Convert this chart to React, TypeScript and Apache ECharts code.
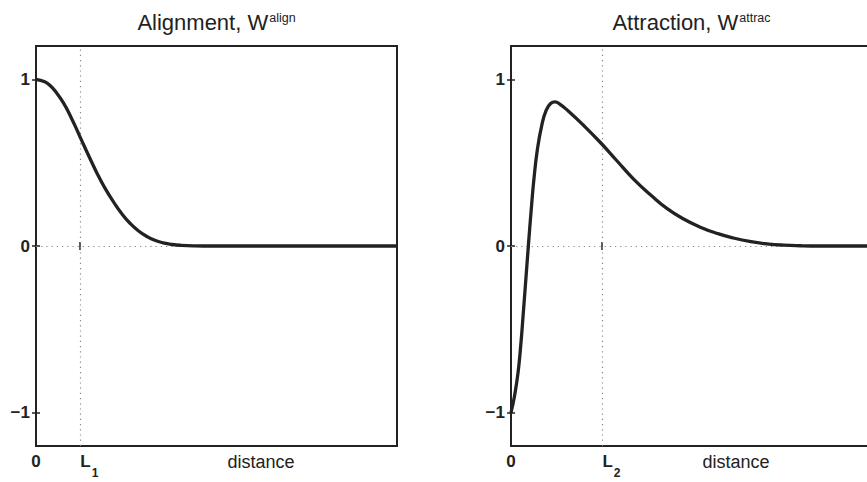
import React, { useEffect, useRef } from 'react';
import * as echarts from 'echarts';

// Alignment kernel W^align (distance in plot units, L1 = 1)
const alignDist = [0, 0.2, 0.32, 0.45, 0.62, 0.8, 1.0, 1.2, 1.38, 1.56, 1.76, 1.95, 2.14, 2.33, 2.52, 2.7, 2.89, 3.1, 3.3, 3.6, 4.0, 5.0, 6.0, 7.0, 8.2];
const alignW = [1.0, 0.985, 0.963, 0.925, 0.86, 0.77, 0.655, 0.54, 0.44, 0.35, 0.265, 0.193, 0.135, 0.09, 0.057, 0.034, 0.019, 0.009, 0.004, 0.001, 0, 0, 0, 0, 0];

// Attraction kernel W^attrac
const attracDist = [0, 0.08, 0.16, 0.22, 0.28, 0.34, 0.4, 0.46, 0.52, 0.6, 0.7, 0.8, 0.9, 1.0, 1.1, 1.3, 1.64, 2.02, 2.4, 2.79, 3.2, 3.54, 3.9, 4.3, 4.7, 5.05, 5.45, 5.81, 6.2, 6.57, 7.0, 8.2];
const attracW = [-1, -0.9, -0.76, -0.6, -0.4, -0.19, 0.02, 0.22, 0.4, 0.58, 0.725, 0.815, 0.855, 0.865, 0.853, 0.81, 0.726, 0.624, 0.513, 0.4, 0.3, 0.226, 0.165, 0.113, 0.074, 0.048, 0.026, 0.013, 0.005, 0.0015, 0, 0];

const L1 = 1;
const L2 = 2.07;
const xMin = 0;
const xMax = 8.2;
const yMin = -1.2;
const yMax = 1.2;
const yTicks = [-1, 0, 1];
const titles = [
  { main: 'Alignment, W', sup: 'align' },
  { main: 'Attraction, W', sup: 'attrac' },
];
const xLabelName = 'distance';

const FONT = '"Liberation Sans", Arial, Helvetica, sans-serif';
const INK = '#222';

export default function App() {
  const ref = useRef<HTMLDivElement>(null);
  useEffect(() => {
    if (!ref.current) return;
    const chart = echarts.init(ref.current, undefined, { renderer: 'svg' });

    const grids = [
      { left: 36, top: 46, width: 361, height: 400 },
      { left: 511, top: 46, width: 361, height: 400 },
    ];
    const Ls = [L1, L2];
    const subs = ['1', '2'];

    const xAxes: any[] = [];
    const yAxes: any[] = [];
    grids.forEach((g, gi) => {
      const ticks = [0, Ls[gi]];
      xAxes.push({
        type: 'value', gridIndex: gi, position: 'bottom', min: xMin, max: xMax,
        axisLine: { show: false }, splitLine: { show: false },
        axisTick: { show: true, inside: true, length: 4, customValues: ticks, lineStyle: { color: INK, width: 1.5 } },
        axisLabel: {
          show: true, customValues: ticks, margin: 7, color: INK,
          formatter: (v: number) => (v === 0 ? '{n|0}' : '{l|L}{s|' + subs[gi] + '}{h| }'),
          rich: {
            n: { fontFamily: FONT, fontWeight: 'bold', fontSize: 17, lineHeight: 18, verticalAlign: 'top', color: INK },
            l: { fontFamily: FONT, fontWeight: 'bold', fontSize: 17, lineHeight: 18, verticalAlign: 'top', padding: [0, 0, 0, 19], color: INK },
            s: { fontFamily: FONT, fontWeight: 'bold', fontSize: 12, lineHeight: 12, verticalAlign: 'bottom', padding: [0, 0, 0, 1], color: INK },
            h: { fontSize: 1, lineHeight: 25.5, verticalAlign: 'bottom' },
          },
        },
      });
      xAxes.push({
        type: 'value', gridIndex: gi, position: 'top', min: xMin, max: xMax,
        axisLine: { show: false }, splitLine: { show: false }, axisLabel: { show: false },
        axisTick: { show: true, inside: true, length: 4, customValues: ticks, lineStyle: { color: INK, width: 1.5 } },
      });
      yAxes.push({
        type: 'value', gridIndex: gi, position: 'left', min: yMin, max: yMax,
        axisLine: { show: false }, splitLine: { show: false },
        axisTick: { show: true, inside: true, length: 4, customValues: yTicks, lineStyle: { color: INK, width: 1.5 } },
        axisLabel: {
          show: true, customValues: yTicks, margin: 6, color: INK,
          fontFamily: FONT, fontWeight: 'bold', fontSize: 17,
          formatter: (v: number) => (v < 0 ? '\u2212' + Math.abs(v) : String(v)),
        },
      });
      yAxes.push({
        type: 'value', gridIndex: gi, position: 'right', min: yMin, max: yMax,
        axisLine: { show: false }, splitLine: { show: false }, axisLabel: { show: false },
        axisTick: { show: true, inside: true, length: 4, customValues: yTicks, lineStyle: { color: INK, width: 1.5 } },
      });
    });

    const mkSeries = (dist: number[], w: number[], gi: number) => ({
      type: 'line',
      xAxisIndex: gi * 2,
      yAxisIndex: gi * 2,
      data: dist.map((d, i) => [d, w[i]]),
      showSymbol: false,
      smooth: 0.5,
      lineStyle: { color: INK, width: 3.3 },
      z: 5,
      markLine: {
        silent: true,
        symbol: 'none',
        label: { show: false },
        lineStyle: { color: '#888', width: 1.2, type: [1.2, 4] },
        data: [{ yAxis: 0 }, { xAxis: Ls[gi] }],
        z: 1,
      },
    });

    const titleCenters = grids.map((g) => g.left + g.width / 2);
    const nameCenters = grids.map((g) => g.left + 225);

    chart.setOption({
      animation: false,
      backgroundColor: '#fff',
      grid: grids.map((g) => ({ ...g, show: true, borderColor: INK, borderWidth: 2, backgroundColor: 'transparent', containLabel: false, outerBoundsMode: 'none' })),
      xAxis: xAxes,
      yAxis: yAxes,
      series: [mkSeries(alignDist, alignW, 0), mkSeries(attracDist, attracW, 1)],
      graphic: [
        ...titles.map((t, i) => ({
          type: 'text',
          x: titleCenters[i],
          y: 11,
          style: {
            text: '{a|' + t.main + '}{b|' + t.sup + '}',
            align: 'center',
            verticalAlign: 'top',
            rich: {
              a: { fontFamily: FONT, fontSize: 22, lineHeight: 26, verticalAlign: 'top', fill: INK, color: INK },
              b: { fontFamily: FONT, fontSize: 12.5, lineHeight: 14, verticalAlign: 'top', padding: [0, 0, 0, 1], fill: INK, color: INK },
            },
          },
        })),
        ...nameCenters.map((cx) => ({
          type: 'text',
          x: cx,
          y: 453,
          style: { text: xLabelName, align: 'center', verticalAlign: 'top', fontFamily: FONT, fontSize: 18, fill: INK },
        })),
      ],
    });
    return () => chart.dispose();
  }, []);
  return <div ref={ref} style={{ position: 'absolute', left: 0, top: 0, width: 867, height: 482 }} />;
}
